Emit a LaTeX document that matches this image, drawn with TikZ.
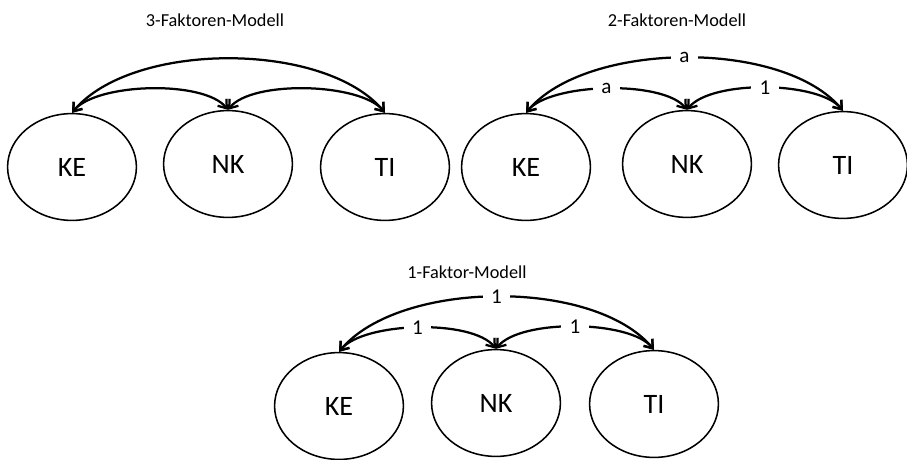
\documentclass[tikz,border=0pt]{standalone}
\usepackage{fontspec}
\setmainfont{Carlito}
\usetikzlibrary{shapes.geometric, arrows.meta}
\tikzset{
	factor/.style={draw, ellipse, line width=1.1pt, minimum width=3.22cm, minimum height=2.67cm, inner sep=0pt, font=\fontsize{20}{24}\selectfont}
}
\tikzset{
	corr/.style={line width=1.6pt, {Straight Barb[length=5.5pt, width=8pt]}-{Straight Barb[length=5.5pt, width=8pt]}}
}
\tikzset{
	coef/.style={fill=white, inner xsep=6pt, inner ysep=1pt, font=\fontsize{15}{17}\selectfont}
}
\tikzset{
	modeltitle/.style={font=\fontsize{13}{15}\selectfont}
}

\begin{document}
\begin{tikzpicture}[x=0.025cm, y=-0.025cm]
      \useasboundingbox (0,0) rectangle (907,460);
      % 3-factor model
      \node[modeltitle] (title3) at (215,20) {3-Faktoren-Modell};
      \foreach \n/\x/\y in {KE/72/167, NK/228/164, TI/385/167} {
        \node[factor] (\n3) at (\x,\y) {\n};
      }
      \draw[corr] (KE3.north) .. controls +(60,-72) and +(-60,-72) .. (TI3.north);
      \draw[corr] (KE3.north) .. controls +(24,-30) and +(-24,-30) .. (NK3.north);
      \draw[corr] (NK3.north) .. controls +(24,-30) and +(-24,-30) .. (TI3.north);
      % 2-factor model
      \node[modeltitle] (title2) at (677,20) {2-Faktoren-Modell};
      \foreach \n/\x/\y in {KE/526/167, NK/687/164, TI/843/165} {
        \node[factor] (\n2) at (\x,\y) {\n};
      }
      \draw[corr] (KE2.north) .. controls +(60,-72) and +(-60,-72) .. node[coef] {a} (TI2.north);
      \draw[corr] (KE2.north) .. controls +(24,-30) and +(-24,-30) .. node[coef] {a} (NK2.north);
      \draw[corr] (NK2.north) .. controls +(24,-30) and +(-24,-30) .. node[coef] {1} (TI2.north);
      % 1-factor model
      \node[modeltitle] (title1) at (467,272) {1-Faktor-Modell};
      \foreach \n/\x/\y in {KE/339/406, NK/496/403, TI/654/404} {
        \node[factor] (\n1) at (\x,\y) {\n};
      }
      \draw[corr] (KE1.north) .. controls +(60,-72) and +(-60,-72) .. node[coef] {1} (TI1.north);
      \draw[corr] (KE1.north) .. controls +(24,-30) and +(-24,-30) .. node[coef] {1} (NK1.north);
      \draw[corr] (NK1.north) .. controls +(24,-30) and +(-24,-30) .. node[coef] {1} (TI1.north);
    \end{tikzpicture}
\end{document}
